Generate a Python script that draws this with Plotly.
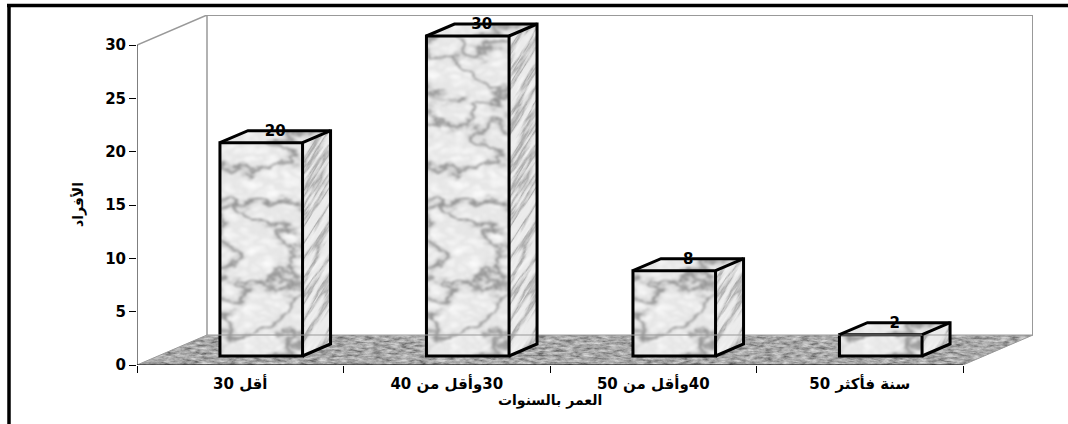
import base64
import plotly.graph_objects as go

# Chart data
categories = ["\u202bأقل 30\u202c", "\u202b30وأقل من 40\u202c", "\u202b40وأقل من 50\u202c", "\u202bسنة فأكثر 50\u202c"]
values = [20, 30, 8, 2]
y_ticks = [0, 5, 10, 15, 20, 25, 30]
x_title = "العمر بالسنوات"
y_title = "الأفراد"

# Page and plot geometry (pixels)
WIDTH, HEIGHT = 1068, 424
LEFT, RIGHT_EDGE, TOP, BOTTOM_EDGE = 137, 1033, 15, 365
CAT_PX = 206.5
UNIT_PX = 320 / 30

# Oblique projection of the depth direction, in axis units
DEPTH_X = 70 / CAT_PX
DEPTH_Y = 30 / UNIT_PX
X_MIN, X_MAX = -0.5, 3.5
Y_MAX = 30
BAR_WIDTH = 0.4
SHIFT_X, SHIFT_Y = 0.3 * DEPTH_X, 0.3 * DEPTH_Y
BAR_DX, BAR_DY = 0.4 * DEPTH_X, 0.4 * DEPTH_Y
LABEL_DROP = 1.5 / UNIT_PX

FONT = "DejaVu Sans"
GREY = "#999999"


def table_funcs(table):
    return "".join(f'<feFunc{c} type="table" tableValues="{table}"/>' for c in "RGB")


def noise_layer(freq, octaves, seed, table, name):
    """One grey noise layer passed through a tone table."""
    return (
        f'<feTurbulence type="fractalNoise" baseFrequency="{freq}" numOctaves="{octaves}" seed="{seed}"/>'
        '<feColorMatrix values="1 0 0 0 0 1 0 0 0 0 1 0 0 0 0 0 0 0 0 1"/>'
        f'<feComponentTransfer result="{name}">{table_funcs(table)}</feComponentTransfer>'
    )


def layered_filter(*layers, blur=0):
    body = "".join(noise_layer(*layer, f"n{i}") for i, layer in enumerate(layers))
    blended = "n0"
    for i in range(1, len(layers)):
        body += f'<feBlend mode="multiply" in="{blended}" in2="n{i}" result="b{i}"/>'
        blended = f"b{i}"
    if blur:
        body += f'<feGaussianBlur in="{blended}" stdDeviation="{blur}"/>'
    return ('<filter id="m" x="0" y="0" width="100%" height="100%" '
            f'color-interpolation-filters="sRGB">{body}</filter>')


def vein_table(side, low):
    """Tone table that is white except for a narrow dark band around mid-grey."""
    edge = " ".join(["1"] * side)
    return f"{edge} .96 .86 {low} .86 .96 {edge}"


MARBLE = layered_filter(
    ("0.016 0.026", 6, 11, vein_table(15, ".62")),
    ("0.05 0.09", 3, 23, "1 .99 .98 .96 .94 .92 .9 .92 .94 .96 .98 .99 1"),
    blur=0.8,
)
STREAK = layered_filter(
    ("0.012 0.1", 5, 5, vein_table(9, ".72")),
    ("0.04 0.2", 2, 9, ".98 .97 .95 .93 .92 .93 .95 .97 .98"),
    blur=0.6,
)
FLOOR = layered_filter(
    ("0.11 0.4", 4, 3, ".32 .38 .48 .58 .66 .73 .8 .85 .88"),
)


def textured_face(xs, ys, defs, angle=0):
    """Return a layout image that paints a polygon (axis units) with an SVG texture."""
    x0, x1, y0, y1 = min(xs), max(xs), min(ys), max(ys)
    w, h = (x1 - x0) * CAT_PX, (y1 - y0) * UNIT_PX
    pts = " ".join(f"{(x - x0) * CAT_PX:.2f},{-(y - y0) * UNIT_PX:.2f}" for x, y in zip(xs, ys))
    svg = (
        f'<svg xmlns="http://www.w3.org/2000/svg" width="{w:.2f}" height="{h:.2f}" '
        f'viewBox="0 {-h:.2f} {w:.2f} {h:.2f}" preserveAspectRatio="none"><defs>{defs}'
        f'<clipPath id="c"><polygon points="{pts}"/></clipPath></defs>'
        f'<g clip-path="url(#c)"><g transform="rotate({angle})">'
        f'<rect x="-1200" y="-1200" width="2400" height="2400" fill="#fff" filter="url(#m)"/>'
        f'</g></g></svg>'
    )
    href = "data:image/svg+xml;base64," + base64.b64encode(svg.encode()).decode()
    return dict(source=href, xref="x", yref="y", x=x0, y=y1, sizex=x1 - x0, sizey=y1 - y0,
                xanchor="left", yanchor="top", sizing="stretch", layer="below")


positions = list(range(len(categories)))
fig = go.Figure()
images = []

# Floor
floor_x = [X_MIN, X_MAX, X_MAX + DEPTH_X, X_MIN + DEPTH_X]
floor_y = [0, 0, DEPTH_Y, DEPTH_Y]
images.append(textured_face(floor_x, floor_y, FLOOR))


def add_line(xs, ys, color, width):
    fig.add_trace(go.Scatter(x=xs, y=ys, mode="lines", line=dict(color=color, width=width),
                             hoverinfo="skip", cliponaxis=False))


# Back wall and its slanted edges
add_line([X_MIN, X_MIN + DEPTH_X, X_MIN + DEPTH_X], [Y_MAX, Y_MAX + DEPTH_Y, DEPTH_Y], GREY, 1.5)
add_line([X_MIN + DEPTH_X, X_MAX + DEPTH_X, X_MAX + DEPTH_X], [Y_MAX + DEPTH_Y] * 2 + [DEPTH_Y], GREY, 2)
add_line([X_MIN, X_MIN + DEPTH_X, X_MAX + DEPTH_X, X_MAX], [0, DEPTH_Y, DEPTH_Y, 0], GREY, 1)

# Value and category axis lines
add_line([X_MIN, X_MIN], [0, Y_MAX], "#000", 1)
add_line([X_MIN, X_MAX], [0, 0], "#000", 1)

# Box faces for every column
for p, v in zip(positions, values):
    left = p + SHIFT_X - BAR_WIDTH / 2
    right = p + SHIFT_X + BAR_WIDTH / 2
    base = SHIFT_Y
    top = base + v
    images.append(textured_face([left, right, right, left], [base, base, top, top], MARBLE))
    images.append(textured_face([right, right + BAR_DX, right + BAR_DX, right],
                                [base, base + BAR_DY, top + BAR_DY, top], STREAK, angle=-58))
    images.append(textured_face([left, right, right + BAR_DX, left + BAR_DX],
                                [top, top, top + BAR_DY, top + BAR_DY], MARBLE))

# Front faces
fig.add_trace(go.Bar(
    x=[p + SHIFT_X for p in positions], y=values, base=[SHIFT_Y] * len(values), width=BAR_WIDTH,
    marker=dict(color="rgba(0,0,0,0)", line=dict(color="#000", width=3)), hoverinfo="skip",
))

# Side and top outlines
for p, v in zip(positions, values):
    left = p + SHIFT_X - BAR_WIDTH / 2
    right = p + SHIFT_X + BAR_WIDTH / 2
    top = SHIFT_Y + v
    add_line([right, right + BAR_DX, right + BAR_DX, left + BAR_DX, left],
             [SHIFT_Y, SHIFT_Y + BAR_DY, top + BAR_DY, top + BAR_DY, top], "#000", 3)
    add_line([right, right + BAR_DX], [top, top + BAR_DY], "#000", 3)

# Value labels on the rear top edge
fig.add_trace(go.Scatter(
    x=[p + SHIFT_X + BAR_DX / 2 for p in positions],
    y=[SHIFT_Y + BAR_DY + v - LABEL_DROP for v in values],
    mode="text", text=[str(v) for v in values], textposition="middle center",
    textfont=dict(family=FONT, size=15, color="#000", weight="bold"),
    hoverinfo="skip", cliponaxis=False,
))


def px_x(px):
    return (px - LEFT) / (RIGHT_EDGE - LEFT)


def px_y(py):
    return (BOTTOM_EDGE - py) / (BOTTOM_EDGE - TOP)


frame = dict(color="#000", width=3.5)
shapes = [
    dict(type="line", xref="paper", yref="paper", x0=px_x(7), x1=px_x(WIDTH), y0=px_y(5.5), y1=px_y(5.5), line=frame),
    dict(type="line", xref="paper", yref="paper", x0=px_x(9), x1=px_x(9), y0=px_y(4), y1=px_y(HEIGHT), line=frame),
]

title_font = dict(family=FONT, size=14, color="#000", weight="bold")
annotations = [
    dict(text=x_title, xref="x", yref="paper", x=(X_MIN + X_MAX) / 2, y=px_y(400), showarrow=False,
         xanchor="center", yanchor="middle", font=title_font),
    dict(text=y_title, xref="paper", yref="y", x=px_x(78), y=Y_MAX / 2, showarrow=False, textangle=-90,
         xanchor="center", yanchor="middle", font=title_font),
]

fig.update_layout(
    width=WIDTH, height=HEIGHT,
    margin=dict(l=LEFT, r=WIDTH - RIGHT_EDGE, t=TOP, b=HEIGHT - BOTTOM_EDGE, pad=0),
    paper_bgcolor="#fff", plot_bgcolor="rgba(0,0,0,0)",
    showlegend=False, hovermode=False, images=images, shapes=shapes, annotations=annotations,
    xaxis=dict(
        range=[X_MIN, X_MAX + DEPTH_X], tickmode="array", tickvals=positions, ticktext=categories,
        ticks="", showgrid=False, zeroline=False, showline=False, ticklabelstandoff=8,
        tickfont=dict(family=FONT, size=15, color="#000", weight="bold"),
        minor=dict(tickmode="array", tickvals=[X_MIN + i for i in range(5)], ticks="outside",
                   ticklen=7, tickwidth=1, tickcolor="#000", showgrid=False),
    ),
    yaxis=dict(
        range=[0, Y_MAX + DEPTH_Y], tickmode="array", tickvals=y_ticks, ticks="outside", ticklen=7,
        tickwidth=1, tickcolor="#000", showgrid=False, zeroline=False, showline=False,
        tickfont=dict(family=FONT, size=15, color="#000", weight="bold"),
    ),
)

fig.write_html("out.html", config={"displayModeBar": False})
